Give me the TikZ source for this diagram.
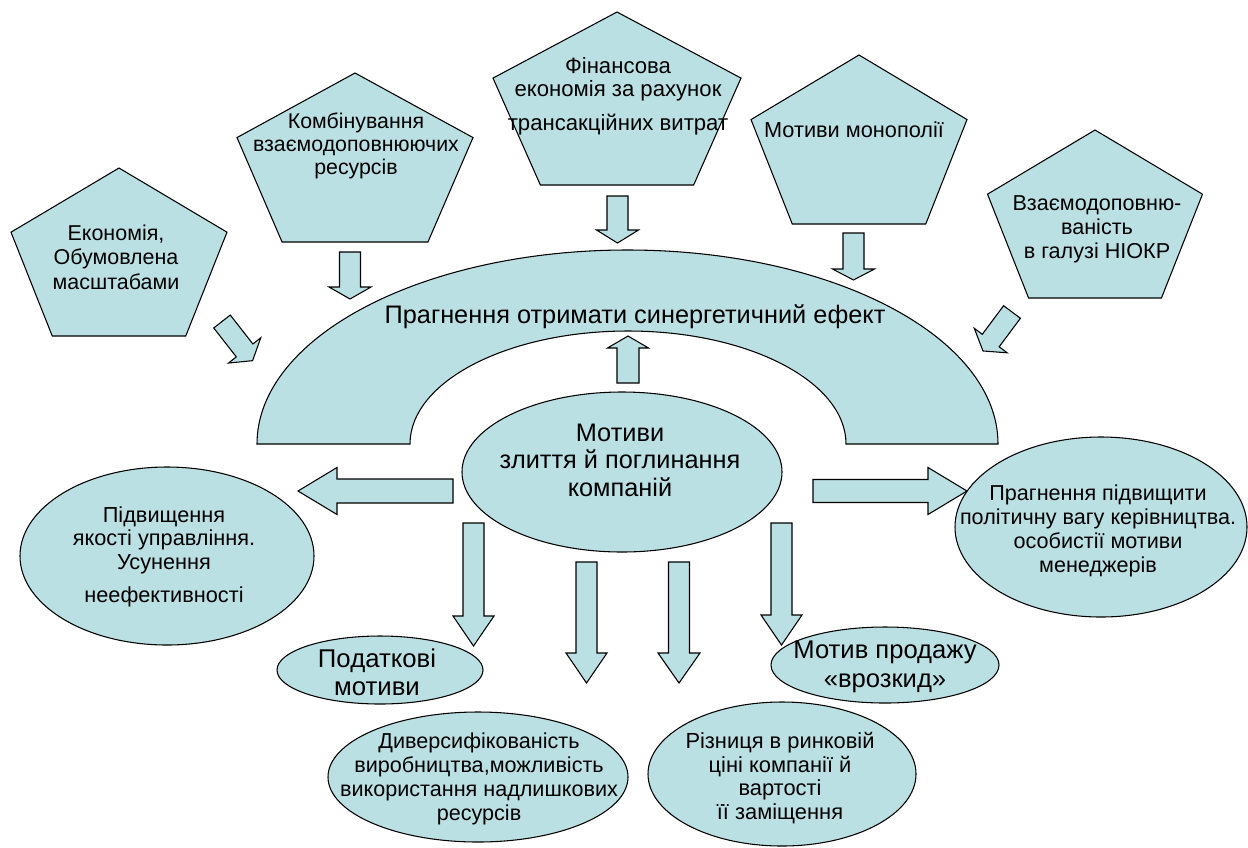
\documentclass[tikz,border=0pt]{standalone}
\usepackage{fontspec}
\setmainfont{Liberation Sans}
\usetikzlibrary{shapes.geometric}
\definecolor{fillc}{RGB}{187,224,227}
\tikzset{
  shp/.style={draw=black, fill=fillc, line width=0.8pt, line join=miter},
  ell/.style={shp, ellipse, inner sep=0pt},
  txt/.style={align=center, inner sep=0pt},
}
\newcommand\fsz[2]{\fontsize{#1}{#2}\selectfont}
% pentagon: name, cx, top, width, height
\newcommand\pent[5]{%
  \draw[shp] (#2,#3) coordinate (#1) -- ({#2+#4/2},{#3+0.382*#5}) -- ({#2+0.309*#4},{#3+#5})
    -- ({#2-0.309*#4},{#3+#5}) -- ({#2-#4/2},{#3+0.382*#5}) -- cycle;}
% block arrow: x0, y0, angle, length, head length, shaft width, head width
\newcommand\barrow[7]{%
  \begin{scope}[shift={(#1,#2)},rotate=#3]
    \draw[shp] (0,{-#6/2}) -- ({#4-#5},{-#6/2}) -- ({#4-#5},{-#7/2}) -- (#4,0)
      -- ({#4-#5},{#7/2}) -- ({#4-#5},{#6/2}) -- (0,{#6/2}) -- cycle;
  \end{scope}}
\begin{document}
\begin{tikzpicture}[x=0.75pt,y=-0.75pt]
\fill[white] (0,0) rectangle (1248,847);
\useasboundingbox (0,0) rectangle (1248,847);

% arch
\draw[shp] (257,444) arc[start angle=180, end angle=360, x radius=370.5, y radius=194]
  -- (846,444) arc[start angle=0, end angle=-180, x radius=218, y radius=113] -- cycle;
\node[txt, font=\fsz{19}{22}] (synergy) at (635,317) {Прагнення отримати синергетичний ефект};

% pentagons
\pent{p1}{119}{168}{216}{168}
\pent{p2}{355}{73}{236}{169}
\pent{p3}{617}{12}{248}{173}
\pent{p4}{859}{55}{216}{169}
\pent{p5}{1095}{130}{215}{168}
\node[txt, font=\fsz{16.1}{18.5}] (t1) at (116,257) {Економія,\\Обумовлена\\масштабами};
\node[txt, font=\fsz{16}{17.4}] (t2) at (356,146) {Комбінування\\взаємодоповнюючих\\ресурсів};
\node[txt, font=\fsz{16.6}{17.5}] (t3) at (618,96) {Фінансова\\економія за рахунок\\[8pt]трансакційних витрат};
\node[txt, font=\fsz{16.3}{18}] (t4) at (854,130) {Мотиви монополії};
\node[txt, font=\fsz{16.2}{18}] (t5) at (1097,229) {Взаємодоповню-\\ваність\\в галузі НІОКР};

% central ellipse
\node[ell, minimum width=240pt, minimum height=120pt] (center) at (622,472) {};
\node[txt, font=\fsz{19}{20.6}] (centert) at (620,460) {Мотиви\\злиття й поглинання\\компаній};

% outer ellipses
\node[ell, minimum width=220.5pt, minimum height=133.5pt] (quality) at (167,556) {};
\node[txt, font=\fsz{16.3}{17.6}] (qualityt) at (164,557)
  {Підвищення\\якості управління.\\Усунення\\[7.5pt]неефективності};
\node[ell, minimum width=219pt, minimum height=135pt] (polit) at (1101,527) {};
\node[txt, font=\fsz{16.2}{17.8}] (politt) at (1098,531)
  {Прагнення підвищити\\політичну вагу керівництва.\\особистії мотиви\\менеджерів};
\node[ell, minimum width=154.5pt, minimum height=51pt] (tax) at (380,670) {};
\node[txt, font=\fsz{19.3}{21}] (taxt) at (377,672) {Податкові\\мотиви};
\node[ell, minimum width=171pt, minimum height=57pt] (sale) at (885,665) {};
\node[txt, font=\fsz{19.2}{21.75}] (salet) at (885,667) {Мотив продажу\\«врозкид»};
\node[ell, minimum width=225pt, minimum height=97.5pt] (divers) at (478,777) {};
\node[txt, font=\fsz{16.2}{18}] (diverst) at (479,779)
  {Диверсифікованість\\виробництва,можливість\\використання надлишкових\\ресурсів};
\node[ell, minimum width=201pt, minimum height=108pt] (diff) at (782,774) {};
\node[txt, font=\fsz{16.4}{17.6}] (difft) at (780,778)
  {Різниця в ринковій\\ціні компанії й\\вартості\\її заміщення};

% block arrows
\barrow{350}{252}{-90}{47}{12}{21}{42}
\barrow{617.5}{196}{-90}{47}{13}{21}{42}
\barrow{853.5}{233}{-90}{47}{11}{21}{42}
\barrow{222}{321.5}{-52}{49.7}{13}{21}{41}
\barrow{1012}{312}{-126.7}{48.6}{13}{21}{41}
\barrow{628}{383}{90}{47}{12}{22}{41}
\barrow{453}{491}{180}{155}{39}{24}{47}
\barrow{813}{491}{0}{154}{39}{23}{47}
\barrow{473.5}{523}{-90}{123}{30}{21}{41}
\barrow{586.5}{562}{-90}{121}{30}{21}{41}
\barrow{679}{562}{-90}{121}{30}{21}{42}
\barrow{781.5}{523}{-90}{122}{30}{21}{41}
\end{tikzpicture}
\end{document}
